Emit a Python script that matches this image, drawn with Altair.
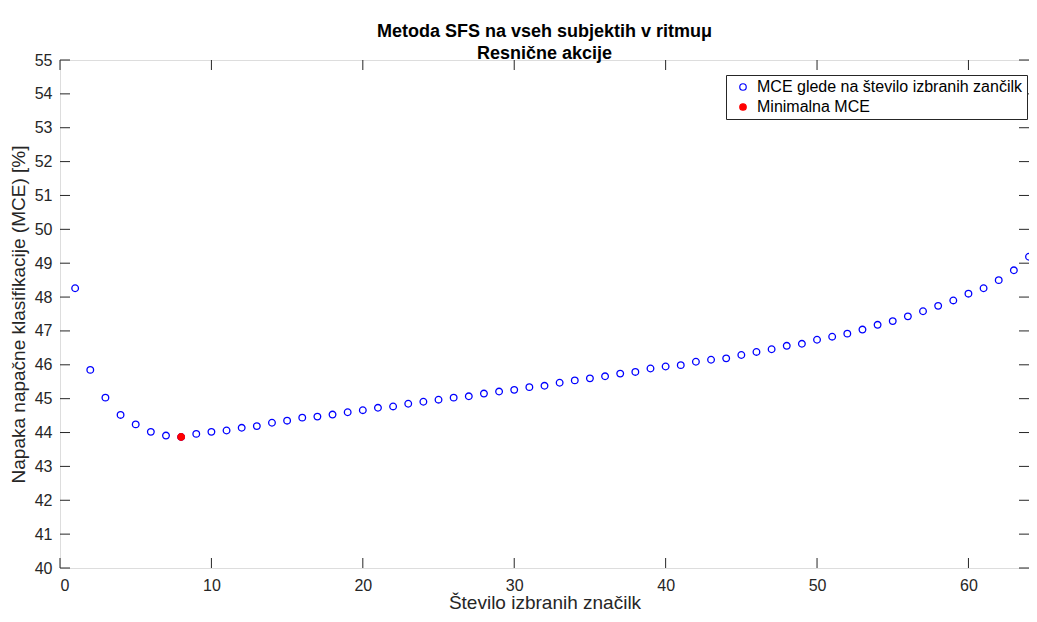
import altair as alt
import pandas as pd

# ---- data ----
n_features = list(range(1, 65))
mce = [48.26, 45.85, 45.03, 44.52, 44.24, 44.02, 43.91, 43.87, 43.96, 44.02,
       44.06, 44.14, 44.19, 44.29, 44.35, 44.44, 44.47, 44.53, 44.60, 44.66,
       44.73, 44.77, 44.85, 44.91, 44.97, 45.03, 45.07, 45.15, 45.21, 45.26,
       45.34, 45.38, 45.47, 45.54, 45.60, 45.66, 45.74, 45.79, 45.89, 45.95,
       45.99, 46.09, 46.15, 46.19, 46.29, 46.38, 46.46, 46.56, 46.62, 46.74,
       46.83, 46.92, 47.04, 47.18, 47.29, 47.43, 47.58, 47.74, 47.90, 48.10,
       48.26, 48.50, 48.79, 49.19]
min_x = [8]
min_y = [43.87]
series_names = ["MCE glede na število izbranih zančilk", "Minimalna MCE"]
x_ticks = [0, 10, 20, 30, 40, 50, 60]
y_ticks = list(range(40, 56))

df = pd.DataFrame({"x": n_features, "y": mce, "s": series_names[0]})
df_min = pd.DataFrame({"x": min_x, "y": min_y, "s": series_names[1]})
pts = pd.concat([df, df_min], ignore_index=True)

xt = pd.DataFrame({"x": x_ticks})
yt = pd.DataFrame({"y": y_ticks})

W, H = 969, 508
FONT = "Liberation Sans"
AX = "#262626"

xenc = alt.X("x:Q", scale=alt.Scale(domain=[0, 64], nice=False, zero=False),
             axis=alt.Axis(values=x_ticks, title="Število izbranih značilk", grid=False,
                           tickSize=0, domain=False, labelPadding=9, titlePadding=0,
                           labelFontSize=16, titleFontSize=19, labelColor=AX,
                           titleColor=AX, labelFont=FONT, titleFont=FONT,
                           titleFontWeight="normal", format="d"))
yenc = alt.Y("y:Q", scale=alt.Scale(domain=[40, 55], nice=False, zero=False),
             axis=alt.Axis(values=y_ticks, title="Napaka napačne klasifikacije (MCE) [%]",
                           grid=False, tickSize=0, domain=False, labelPadding=8,
                           titlePadding=6, labelFontSize=16, titleFontSize=19,
                           labelColor=AX, titleColor=AX, labelFont=FONT, titleFont=FONT,
                           titleFontWeight="normal", format="d"))

leg = dict(title=None, orient="none", legendX=666, legendY=15,
           fillColor="white", strokeColor=AX, padding=4,
           labelFontSize=16, labelFont=FONT, labelColor="black", labelLimit=500,
           symbolSize=42, symbolStrokeWidth=1.2, rowPadding=4, symbolOpacity=1,
           symbolOffset=5, labelOffset=6)

points = alt.Chart(pts).mark_point(size=44, strokeWidth=1.3, filled=False, opacity=1).encode(
    x=xenc, y=yenc,
    stroke=alt.Stroke("s:N", scale=alt.Scale(domain=series_names, range=["#0000ff", "#ff0000"]),
                      legend=alt.Legend(**leg)),
    fill=alt.Fill("s:N", scale=alt.Scale(domain=series_names, range=["white", "#ff0000"]),
                  legend=alt.Legend(**leg)),
)

tick_style = dict(color=AX, strokeWidth=1)
xb = alt.Chart(xt).mark_rule(**tick_style).encode(x=xenc, y=alt.value(H), y2=alt.value(H - 10))
xtop = alt.Chart(xt).mark_rule(**tick_style).encode(x=xenc, y=alt.value(0), y2=alt.value(10))
yl = alt.Chart(yt).mark_rule(**tick_style).encode(y=yenc, x=alt.value(0), x2=alt.value(10))
yr = alt.Chart(yt).mark_rule(**tick_style).encode(y=yenc, x=alt.value(W), x2=alt.value(W - 10))

chart = alt.layer(xb, xtop, yl, yr, points).properties(
    width=W, height=H,
    autosize=alt.AutoSizeParams(type="none"),
    padding={"left": 52, "top": 52, "right": 0, "bottom": 46},
    title=alt.TitleParams(text="Metoda SFS na vseh subjektih v ritmuμ",
                          subtitle="Resnične akcije", anchor="middle",
                          font=FONT, fontSize=18, fontWeight="bold", color="black",
                          subtitleFont=FONT, subtitleFontSize=18, subtitleFontWeight="bold",
                          subtitleColor="black", subtitlePadding=4, offset=-11),
).configure_view(stroke=AX, strokeWidth=1.2).configure(background="white")

chart.save("out.html", embed_options={"renderer": "svg", "actions": False})
